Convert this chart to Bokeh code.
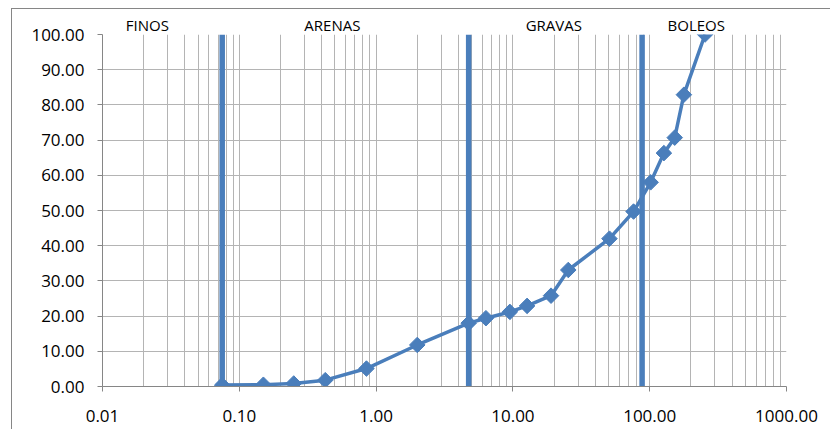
from bokeh.plotting import figure
from bokeh.models import (Range1d, FixedTicker, PrintfTickFormatter, LogAxis,
                          CustomJSTickFormatter)
from bokeh.embed import file_html
from bokeh.resources import INLINE
import numpy as np

# Sieve opening (mm) and cumulative percent passing
diameter_mm = [0.075, 0.15, 0.25, 0.425, 0.85, 2.0, 4.75, 6.35, 9.5, 12.7,
               19.0, 25.4, 50.8, 76.2, 101.6, 127.0, 152.4, 177.8, 254.0]
pct_passing = [0.40, 0.50, 0.85, 1.80, 5.10, 11.80, 18.00, 19.40, 21.20, 22.90,
               25.80, 33.10, 42.00, 49.70, 58.00, 66.30, 70.70, 82.90, 100.00]

# Boundaries between soil fractions (mm)
boundaries_mm = [0.075, 4.75, 88.0]
zone_names = ["FINOS", "ARENAS", "GRAVAS", "BOLEOS"]
zone_label_x = [0.0213, 0.479, 19.9, 219.0]

x_major = [0.01, 0.1, 1, 10, 100, 1000]
y_major = [0, 10, 20, 30, 40, 50, 60, 70, 80, 90, 100]

BLUE = "#4A7EBB"
GRID = "#B4B4B4"
AXIS = "#868686"
FONT = "Open Sans"

p = figure(
    x_axis_type="log",
    x_range=Range1d(0.01, 1000),
    y_range=Range1d(0, 100),
    frame_width=684, frame_height=352,
    min_border_left=90, min_border_right=44,
    min_border_top=25, min_border_bottom=43,
    output_backend="svg", toolbar_location=None,
)
p.margin = (8, 0, 0, 11)
p.styles = {"border-left": f"1px solid {AXIS}", "border-top": f"1px solid {AXIS}"}
p.outline_line_color = None
p.background_fill_color = "white"
p.border_fill_color = "white"

# Minor decade lines 2..9 for the log grid
minor = [m * d for d in x_major[:-1] for m in range(2, 10)]
p.xaxis.ticker = FixedTicker(ticks=x_major, minor_ticks=minor)
p.yaxis.ticker = FixedTicker(ticks=y_major)
p.xaxis.formatter = PrintfTickFormatter(format="%.2f")
p.yaxis.formatter = PrintfTickFormatter(format="%.2f")

for ax in (p.xaxis, p.yaxis):
    ax.axis_line_color = AXIS
    ax.major_tick_line_color = AXIS
    ax.major_tick_out = 5
    ax.major_tick_in = 0
    ax.minor_tick_line_color = None
    ax.major_label_text_font = FONT
    ax.major_label_text_font_size = "17px"
    ax.major_label_text_color = "black"
p.xaxis.major_label_standoff = 18
p.yaxis.major_label_standoff = 13

p.xgrid.grid_line_color = GRID
p.xgrid.minor_grid_line_color = GRID
p.ygrid.grid_line_color = GRID

# Fraction names along the top edge
zone_axis = LogAxis(
    ticker=FixedTicker(ticks=zone_label_x),
    formatter=CustomJSTickFormatter(args=dict(names=zone_names),
                                    code="return names[index];"),
    axis_line_color=None, major_tick_line_color=None, minor_tick_line_color=None,
    major_tick_out=0, major_tick_in=0, major_label_standoff=0,
    major_label_text_font=FONT, major_label_text_font_size="15px",
    major_label_text_color="black",
)
p.add_layout(zone_axis, "above")

# Fraction boundaries
for b in boundaries_mm:
    p.line([b, b], [0, 100], line_color=BLUE, line_width=5.5)

# Grading curve
p.line(diameter_mm, pct_passing, line_color=BLUE, line_width=3.5)
p.scatter(diameter_mm, pct_passing, marker="square", angle=np.pi / 4, size=11,
          fill_color=BLUE, line_color=BLUE)

open("out.html", "w").write(file_html(p, INLINE))
